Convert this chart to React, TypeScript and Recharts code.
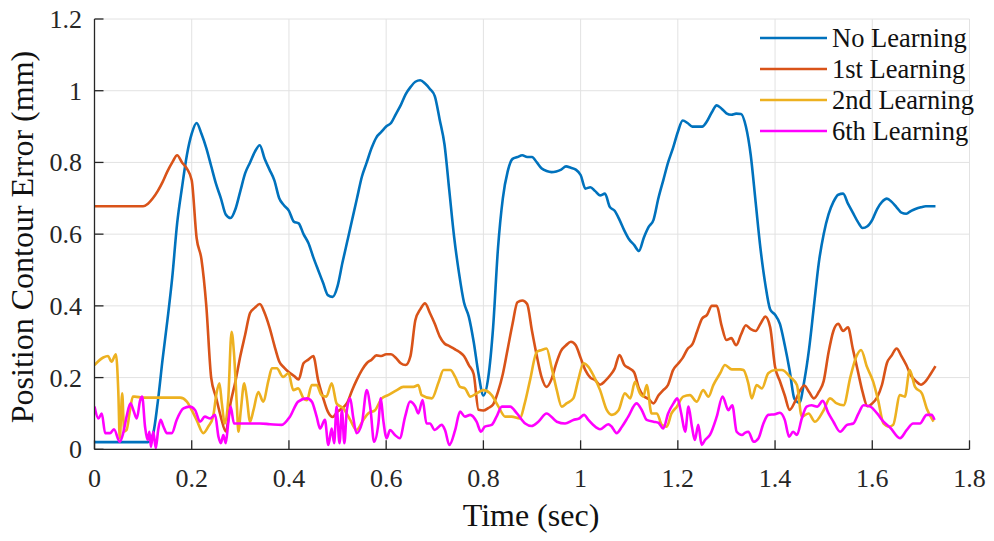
import { LineChart, Line, XAxis, YAxis, CartesianGrid } from 'recharts';

const serif = "'Liberation Serif', 'Times New Roman', serif";

const xTicks = [0, 0.2, 0.4, 0.6, 0.8, 1, 1.2, 1.4, 1.6, 1.8];
const yTicks = [0, 0.2, 0.4, 0.6, 0.8, 1, 1.2];

// sample times for the two smooth traces (sec)
const gridTime = [
  0, 0.01, 0.02, 0.03, 0.04, 0.05, 0.06, 0.07, 0.08, 0.09,
  0.1, 0.11, 0.12, 0.13, 0.14, 0.15, 0.16, 0.17, 0.18, 0.19,
  0.2, 0.21, 0.22, 0.23, 0.24, 0.25, 0.26, 0.27, 0.28, 0.29,
  0.3, 0.31, 0.32, 0.33, 0.34, 0.35, 0.36, 0.37, 0.38, 0.39,
  0.4, 0.41, 0.42, 0.43, 0.44, 0.45, 0.46, 0.47, 0.48, 0.49,
  0.5, 0.51, 0.52, 0.53, 0.54, 0.55, 0.56, 0.57, 0.58, 0.59,
  0.6, 0.61, 0.62, 0.63, 0.64, 0.65, 0.66, 0.67, 0.68, 0.69,
  0.7, 0.71, 0.72, 0.73, 0.74, 0.75, 0.76, 0.77, 0.78, 0.79,
  0.8, 0.81, 0.82, 0.83, 0.84, 0.85, 0.86, 0.87, 0.88, 0.89,
  0.9, 0.91, 0.92, 0.93, 0.94, 0.95, 0.96, 0.97, 0.98, 0.99,
  1, 1.01, 1.02, 1.03, 1.04, 1.05, 1.06, 1.07, 1.08, 1.09,
  1.1, 1.11, 1.12, 1.13, 1.14, 1.15, 1.16, 1.17, 1.18, 1.19,
  1.2, 1.21, 1.22, 1.23, 1.24, 1.25, 1.26, 1.27, 1.28, 1.29,
  1.3, 1.31, 1.32, 1.33, 1.34, 1.35, 1.36, 1.37, 1.38, 1.39,
  1.4, 1.41, 1.42, 1.43, 1.44, 1.45, 1.46, 1.47, 1.48, 1.49,
  1.5, 1.51, 1.52, 1.53, 1.54, 1.55, 1.56, 1.57, 1.58, 1.59,
  1.6, 1.61, 1.62, 1.63, 1.64, 1.65, 1.66, 1.67, 1.68, 1.69,
  1.7, 1.71, 1.72, 1.73,
];

const noLearning = [
  0.02, 0.02, 0.02, 0.02, 0.02, 0.02, 0.02, 0.02, 0.02, 0.02,
  0.02, 0.02, 0.04, 0.13, 0.25, 0.36, 0.48, 0.63, 0.73, 0.82,
  0.88, 0.91, 0.88, 0.84, 0.79, 0.74, 0.7, 0.655, 0.645, 0.67,
  0.72, 0.77, 0.8, 0.83, 0.848, 0.81, 0.78, 0.75, 0.7, 0.68,
  0.665, 0.635, 0.63, 0.6, 0.575, 0.536, 0.5, 0.465, 0.43, 0.425,
  0.455, 0.52, 0.58, 0.64, 0.7, 0.76, 0.8, 0.84, 0.87, 0.885,
  0.9, 0.91, 0.935, 0.96, 0.99, 1.01, 1.025, 1.029, 1.02, 1.005,
  0.985, 0.92, 0.85, 0.72, 0.59, 0.49, 0.41, 0.37, 0.3, 0.21,
  0.15, 0.2, 0.34, 0.56, 0.7, 0.775, 0.81, 0.815, 0.82, 0.815,
  0.815, 0.8, 0.783, 0.776, 0.773, 0.775, 0.78, 0.789, 0.785, 0.78,
  0.765, 0.727, 0.731, 0.72, 0.708, 0.713, 0.676, 0.665, 0.64, 0.61,
  0.585, 0.57, 0.553, 0.59, 0.62, 0.64, 0.7, 0.75, 0.8, 0.84,
  0.885, 0.917, 0.91, 0.9, 0.9, 0.9, 0.915, 0.94, 0.959, 0.95,
  0.937, 0.933, 0.936, 0.935, 0.9, 0.82, 0.69, 0.56, 0.46, 0.39,
  0.375, 0.35, 0.29, 0.22, 0.14, 0.13, 0.19, 0.28, 0.4, 0.52,
  0.6, 0.655, 0.69, 0.71, 0.713, 0.685, 0.66, 0.635, 0.617, 0.622,
  0.64, 0.67, 0.69, 0.699, 0.69, 0.675, 0.66, 0.657, 0.665, 0.671,
  0.675, 0.678, 0.678, 0.678,
];

const firstLearning = [
  0.678, 0.678, 0.678, 0.678, 0.678, 0.678, 0.678, 0.678, 0.678, 0.678,
  0.678, 0.685, 0.7, 0.72, 0.745, 0.775, 0.8, 0.82, 0.8, 0.783,
  0.75, 0.59, 0.53, 0.4, 0.2, 0.145, 0.09, 0.05, 0.13, 0.19,
  0.26, 0.32, 0.38, 0.395, 0.405, 0.38, 0.34, 0.29, 0.245, 0.228,
  0.215, 0.205, 0.195, 0.24, 0.25, 0.26, 0.193, 0.145, 0.105, 0.09,
  0.105, 0.115, 0.13, 0.165, 0.195, 0.221, 0.24, 0.25, 0.262, 0.26,
  0.265, 0.265, 0.255, 0.24, 0.235, 0.26, 0.36, 0.39, 0.407, 0.38,
  0.35, 0.315, 0.295, 0.288, 0.28, 0.272, 0.26, 0.235, 0.21, 0.11,
  0.108, 0.115, 0.125, 0.16, 0.21, 0.28, 0.35, 0.41, 0.415, 0.405,
  0.33, 0.26, 0.2, 0.174, 0.195, 0.24, 0.275, 0.29, 0.3, 0.29,
  0.255, 0.22, 0.2, 0.193, 0.18, 0.19, 0.205, 0.225, 0.263, 0.235,
  0.226, 0.215, 0.17, 0.148, 0.14, 0.128, 0.15, 0.165, 0.18, 0.22,
  0.238, 0.255, 0.28, 0.293, 0.33, 0.365, 0.375, 0.4, 0.4, 0.345,
  0.305, 0.31, 0.29, 0.32, 0.346, 0.335, 0.33, 0.35, 0.37, 0.34,
  0.23, 0.19, 0.15, 0.11, 0.13, 0.16, 0.178, 0.16, 0.142, 0.16,
  0.19, 0.27, 0.33, 0.35, 0.33, 0.34, 0.28, 0.22, 0.16, 0.12,
  0.128, 0.145, 0.18, 0.24, 0.262, 0.281, 0.26, 0.235, 0.205, 0.19,
  0.18, 0.19, 0.21, 0.232,
];

// [time, error] points for the noisier traces
const secondLearning: [number, number][] = [
  [0, 0.235], [0.018, 0.256], [0.028, 0.26], [0.035, 0.244], [0.044, 0.265],
  [0.049, 0.16], [0.052, 0.03], [0.057, 0.156], [0.061, 0.05], [0.066, 0.054],
  [0.073, 0.109], [0.079, 0.147], [0.083, 0.147], [0.1, 0.144], [0.128, 0.144],
  [0.176, 0.144], [0.19, 0.133], [0.2, 0.109], [0.21, 0.082], [0.224, 0.045],
  [0.234, 0.063], [0.244, 0.091], [0.251, 0.156], [0.257, 0.184], [0.262, 0.128],
  [0.268, 0.072], [0.275, 0.137], [0.282, 0.328], [0.287, 0.267], [0.293, 0.119],
  [0.296, 0.049], [0.301, 0.109], [0.308, 0.184], [0.313, 0.147], [0.32, 0.077],
  [0.327, 0.109], [0.337, 0.16], [0.347, 0.133], [0.358, 0.193], [0.365, 0.226],
  [0.375, 0.226], [0.388, 0.202], [0.399, 0.212], [0.409, 0.165], [0.419, 0.17],
  [0.43, 0.142], [0.437, 0.137], [0.447, 0.179], [0.457, 0.179], [0.467, 0.151],
  [0.477, 0.147], [0.488, 0.184], [0.498, 0.128], [0.512, 0.114], [0.526, 0.082],
  [0.539, 0.054], [0.553, 0.082], [0.563, 0.1], [0.577, 0.109], [0.591, 0.142],
  [0.604, 0.151], [0.622, 0.165], [0.635, 0.174], [0.656, 0.174], [0.666, 0.179],
  [0.673, 0.151], [0.694, 0.142], [0.708, 0.188], [0.718, 0.221], [0.732, 0.221],
  [0.742, 0.202], [0.752, 0.174], [0.762, 0.17], [0.773, 0.147], [0.786, 0.156],
  [0.8, 0.165], [0.817, 0.151], [0.831, 0.119], [0.845, 0.091], [0.858, 0.091],
  [0.875, 0.086], [0.885, 0.128], [0.896, 0.193], [0.91, 0.272], [0.92, 0.277],
  [0.93, 0.281], [0.94, 0.23], [0.951, 0.165], [0.961, 0.119], [0.971, 0.128],
  [0.985, 0.142], [0.995, 0.193], [1.006, 0.24], [1.016, 0.23], [1.026, 0.207],
  [1.04, 0.165], [1.054, 0.109], [1.064, 0.096], [1.078, 0.109], [1.091, 0.156],
  [1.102, 0.142], [1.112, 0.188], [1.122, 0.156], [1.129, 0.147], [1.136, 0.179],
  [1.146, 0.1], [1.157, 0.1], [1.167, 0.068], [1.177, 0.063], [1.187, 0.1],
  [1.198, 0.119], [1.211, 0.147], [1.225, 0.151], [1.239, 0.133], [1.252, 0.165],
  [1.263, 0.147], [1.273, 0.179], [1.287, 0.212], [1.297, 0.235], [1.311, 0.223],
  [1.328, 0.223], [1.335, 0.221], [1.345, 0.184], [1.352, 0.142], [1.362, 0.179],
  [1.373, 0.17], [1.386, 0.212], [1.4, 0.221], [1.414, 0.221], [1.431, 0.202],
  [1.445, 0.179], [1.455, 0.091], [1.469, 0.1], [1.482, 0.077], [1.5, 0.109],
  [1.513, 0.142], [1.527, 0.128], [1.541, 0.123], [1.555, 0.202], [1.567, 0.258],
  [1.577, 0.277], [1.589, 0.23], [1.602, 0.188], [1.612, 0.137], [1.623, 0.072],
  [1.635, 0.063], [1.643, 0.068], [1.657, 0.151], [1.667, 0.147], [1.677, 0.221],
  [1.688, 0.174], [1.702, 0.156], [1.712, 0.114], [1.726, 0.077],
];

const sixthLearning: [number, number][] = [
  [0, 0.119], [0.008, 0.086], [0.015, 0.1], [0.022, 0.045], [0.032, 0.045],
  [0.04, 0.056], [0.052, 0.021], [0.059, 0.045], [0.066, 0.091], [0.074, 0.128],
  [0.08, 0.109], [0.087, 0.086], [0.094, 0.137], [0.098, 0.147], [0.104, 0.063],
  [0.109, 0.026], [0.113, 0.049], [0.116, 0.007], [0.121, 0.049], [0.126, 0.003],
  [0.131, 0.054], [0.136, 0.082], [0.142, 0.063], [0.149, 0.045], [0.159, 0.045],
  [0.169, 0.082], [0.183, 0.114], [0.196, 0.119], [0.207, 0.109], [0.217, 0.077],
  [0.227, 0.091], [0.238, 0.086], [0.248, 0.096], [0.255, 0.035], [0.26, 0.017],
  [0.265, 0.04], [0.27, 0.017], [0.275, 0.072], [0.28, 0.119], [0.287, 0.072],
  [0.296, 0.072], [0.34, 0.072], [0.361, 0.07], [0.385, 0.068], [0.402, 0.091],
  [0.419, 0.133], [0.437, 0.142], [0.447, 0.133], [0.457, 0.091], [0.464, 0.058],
  [0.474, 0.082], [0.481, 0.012], [0.488, 0.058], [0.493, 0.017], [0.498, 0.119],
  [0.504, 0.017], [0.509, 0.109], [0.514, 0.017], [0.519, 0.109], [0.526, 0.142],
  [0.532, 0.091], [0.539, 0.045], [0.55, 0.072], [0.56, 0.165], [0.568, 0.109],
  [0.575, 0.021], [0.584, 0.072], [0.589, 0.142], [0.594, 0.082], [0.601, 0.031],
  [0.608, 0.054], [0.618, 0.04], [0.628, 0.031], [0.639, 0.091], [0.649, 0.133],
  [0.66, 0.119], [0.666, 0.1], [0.675, 0.137], [0.683, 0.072], [0.69, 0.072],
  [0.7, 0.054], [0.714, 0.068], [0.721, 0.054], [0.73, 0.012], [0.742, 0.054],
  [0.752, 0.105], [0.762, 0.091], [0.773, 0.096], [0.786, 0.077], [0.795, 0.049],
  [0.803, 0.063], [0.817, 0.068], [0.827, 0.091], [0.838, 0.119], [0.855, 0.119],
  [0.869, 0.1], [0.886, 0.072], [0.899, 0.065], [0.913, 0.077], [0.93, 0.1],
  [0.951, 0.077], [0.968, 0.072], [0.985, 0.082], [0.997, 0.086], [1.007, 0.096],
  [1.016, 0.082], [1.026, 0.068], [1.04, 0.056], [1.057, 0.07], [1.064, 0.063],
  [1.074, 0.045], [1.085, 0.063], [1.098, 0.091], [1.115, 0.128], [1.126, 0.109],
  [1.136, 0.082], [1.15, 0.077], [1.16, 0.074], [1.17, 0.058], [1.18, 0.1],
  [1.191, 0.128], [1.199, 0.142], [1.207, 0.1], [1.215, 0.049], [1.222, 0.119],
  [1.229, 0.063], [1.235, 0.026], [1.242, 0.068], [1.249, 0.012], [1.256, 0.026],
  [1.266, 0.04], [1.28, 0.091], [1.292, 0.147], [1.304, 0.109], [1.312, 0.123],
  [1.321, 0.049], [1.332, 0.04], [1.338, 0.046], [1.345, 0.049], [1.356, 0.021],
  [1.366, 0.031], [1.376, 0.072], [1.386, 0.096], [1.4, 0.098], [1.41, 0.102],
  [1.42, 0.082], [1.429, 0.035], [1.437, 0.049], [1.445, 0.04], [1.455, 0.086],
  [1.465, 0.119], [1.475, 0.123], [1.487, 0.119], [1.498, 0.135], [1.51, 0.1],
  [1.52, 0.077], [1.534, 0.049], [1.548, 0.068], [1.561, 0.072], [1.571, 0.098],
  [1.582, 0.123], [1.596, 0.119], [1.61, 0.1], [1.623, 0.077], [1.637, 0.06],
  [1.657, 0.031], [1.671, 0.054], [1.684, 0.072], [1.698, 0.072], [1.712, 0.096],
  [1.722, 0.096], [1.728, 0.082],
];

const seriesNames = ['No Learning', '1st Learning', '2nd Learning', '6th Learning'];
const seriesColors = ['#0072BD', '#D95319', '#EDB120', '#FF00FF'];

const fromGrid = (vals: number[]) => gridTime.map((t, i) => ({ t, v: vals[i] }));
const fromPairs = (pts: [number, number][]) => pts.map(([t, v]) => ({ t, v }));

const seriesData = [
  fromGrid(noLearning),
  fromGrid(firstLearning),
  fromPairs(secondLearning),
  fromPairs(sixthLearning),
];

const axisColor = '#262626';

const renderXTick = (props: any) => {
  const { x, y, payload } = props;
  return (
    <g key={`xt-${payload.value}`}>
      <line x1={x} x2={x} y1={y} y2={y - 9} style={{ stroke: axisColor, strokeWidth: 1.3 }} />
      <text
        x={x}
        y={y + 37.5}
        textAnchor="middle"
        style={{ fontFamily: serif, fontSize: 26, fill: axisColor }}
      >
        {payload.value}
      </text>
    </g>
  );
};

const renderYTick = (props: any) => {
  const { x, y, payload } = props;
  return (
    <g key={`yt-${payload.value}`}>
      <line x1={x} x2={x + 9} y1={y} y2={y} style={{ stroke: axisColor, strokeWidth: 1.3 }} />
      <text
        x={x - 12.5}
        y={y + 9}
        textAnchor="end"
        style={{ fontFamily: serif, fontSize: 26, fill: axisColor }}
      >
        {payload.value}
      </text>
    </g>
  );
};

export default function App() {
  return (
    <div style={{ position: 'absolute', left: 0, top: 0, width: 994, height: 541, background: '#fff' }}>
      <LineChart
        width={994}
        height={541}
        margin={{ top: 19, right: 24.5, left: 34.5, bottom: 51.7 }}
        style={{ fontFamily: serif }}
      >
        <CartesianGrid stroke="#e2e2e2" strokeWidth={1} />
        <XAxis
          type="number"
          dataKey="t"
          domain={[0, 1.8]}
          ticks={xTicks}
          interval={0}
          allowDataOverflow
          height={40}
          tickSize={0}
          tickMargin={0}
          tickLine={false}
          axisLine={{ stroke: axisColor, strokeWidth: 1.3 }}
          tick={renderXTick}
        />
        <YAxis
          type="number"
          dataKey="v"
          domain={[0, 1.2]}
          ticks={yTicks}
          interval={0}
          allowDataOverflow
          width={60}
          tickSize={0}
          tickMargin={0}
          tickLine={false}
          axisLine={{ stroke: axisColor, strokeWidth: 1.3 }}
          tick={renderYTick}
        />
        {seriesData.map((d, i) => (
          <Line
            key={seriesNames[i]}
            data={d}
            dataKey="v"
            name={seriesNames[i]}
            type="monotone"
            stroke={seriesColors[i]}
            strokeWidth={2.6}
            dot={false}
            activeDot={false}
            isAnimationActive={false}
          />
        ))}
      </LineChart>
      <svg
        width={994}
        height={541}
        style={{ position: 'absolute', left: 0, top: 0, pointerEvents: 'none', fontFamily: serif }}
      >
        <text x={531} y={526} textAnchor="middle" fontSize={32} fill="#111">
          Time (sec)
        </text>
        <text transform="translate(33,237) rotate(-90)" textAnchor="middle" fontSize={32} fill="#111">
          Position Contour Error (mm)
        </text>
        {seriesNames.map((name, i) => (
          <g key={name}>
            <line x1={760} x2={827} y1={38 + i * 31} y2={38 + i * 31} stroke={seriesColors[i]} strokeWidth={2.6} />
            <text x={832} y={47 + i * 31} fontSize={26.5} fill="#111">
              {name}
            </text>
          </g>
        ))}
      </svg>
    </div>
  );
}
